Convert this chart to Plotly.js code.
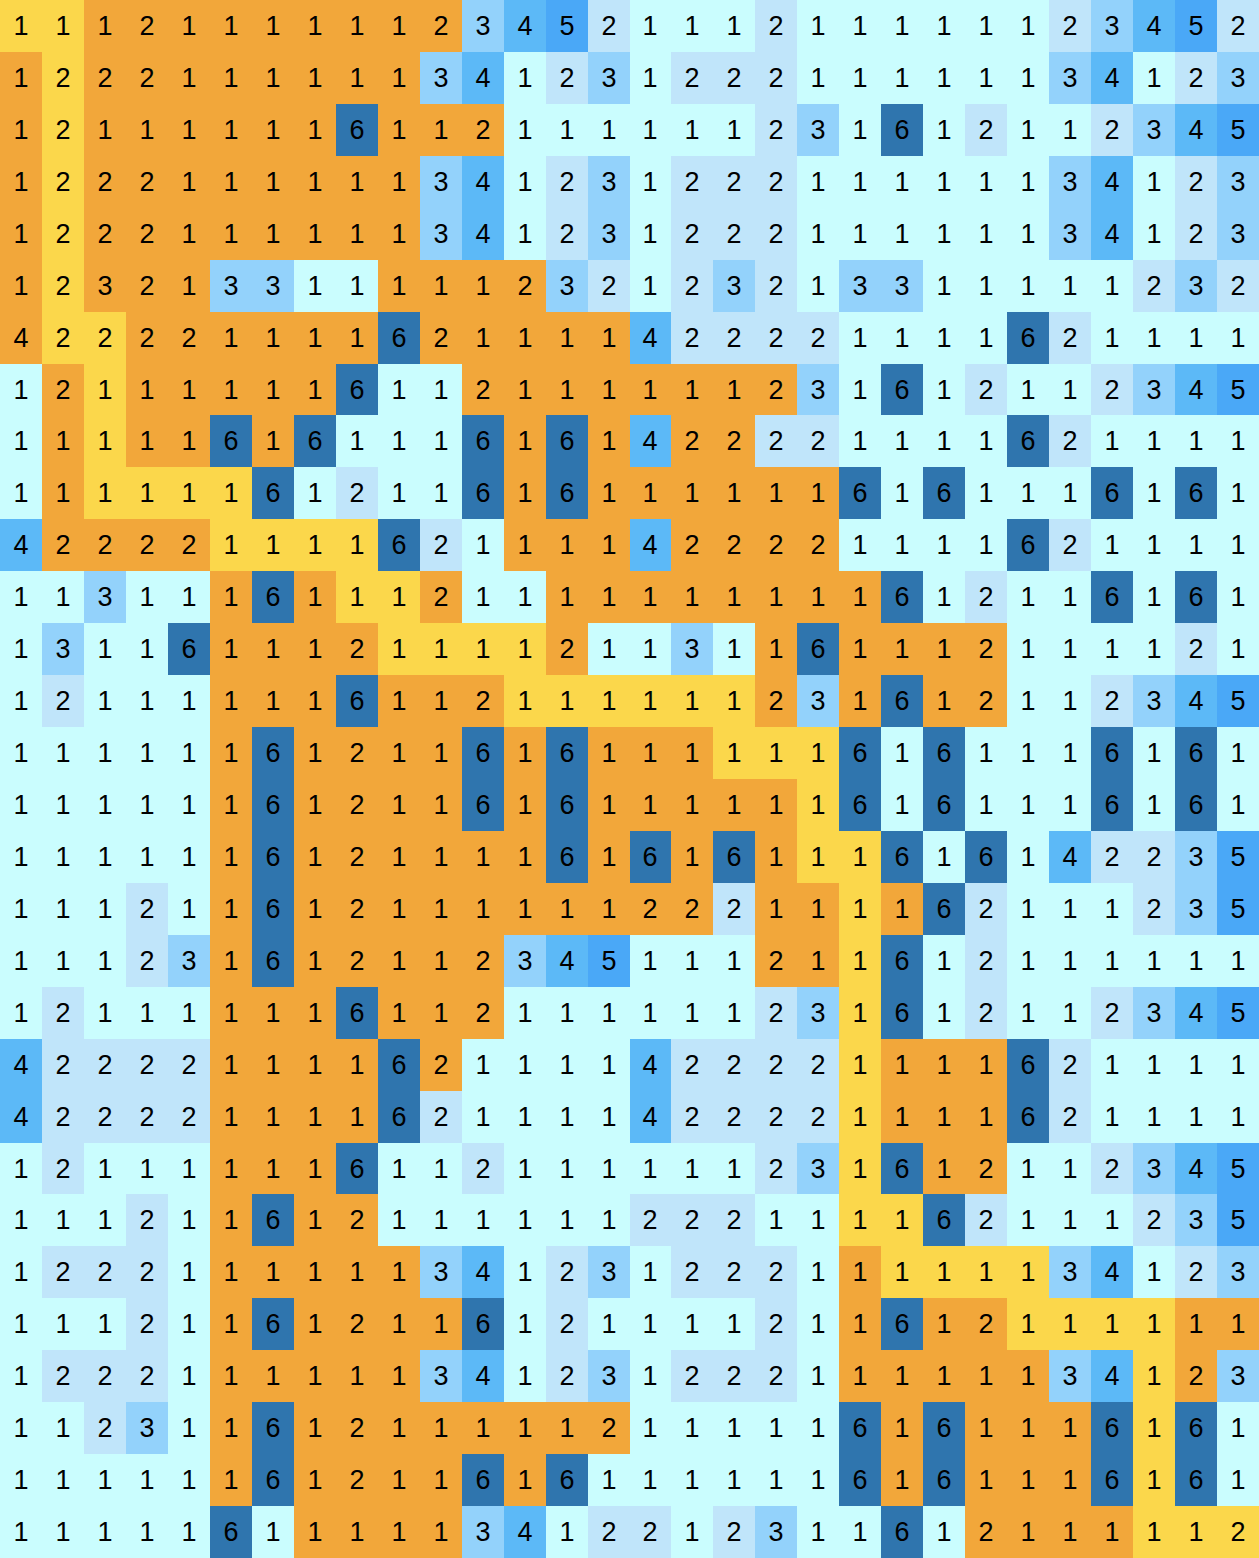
<!DOCTYPE html>
<html>
<head>
<meta charset="utf-8">
<script src="https://cdn.plot.ly/plotly-3.0.1.min.js"></script>
<style>html,body{margin:0;padding:0;background:#fff;overflow:hidden}#chart{width:1259px;height:1558px}</style>
</head>
<body>
<div id="chart"></div>
<script>
// Cell numbers, one string per row (30 columns each)
const cellValues = [
  "111211111123452111211111123452",
  "122211111134123122211111134123",
  "121111116112111111231612112345",
  "122211111134123122211111134123",
  "122211111134123122211111134123",
  "123213311111232123213311111232",
  "422221111621111422221111621111",
  "121111116112111111231612112345",
  "111116161116161422221111621111",
  "111111612116161111116161116161",
  "422221111621111422221111621111",
  "113111611121111111111612116161",
  "131161112111121131161112111121",
  "121111116112111111231612112345",
  "111111612116161111116161116161",
  "111111612116161111116161116161",
  "111111612111161616111616142235",
  "111211612111111222111162111235",
  "111231612112345111211612111111",
  "121111116112111111231612112345",
  "422221111621111422221111621111",
  "422221111621111422221111621111",
  "121111116112111111231612112345",
  "111211612111111222111162111235",
  "122211111134123122211111134123",
  "111211612116121111211612111111",
  "122211111134123122211111134123",
  "112311612111112111116161116161",
  "111111612116161111116161116161",
  "111116111113412212311612111112"
];
// Path membership, left half (cols 0-14): O = orange region, Y = yellow route, . = coloured by number
const cellPath = [
  "YYOOOOOOOOO....",
  "OYOOOOOOOO.....",
  "OYOOOOOO.OOO...",
  "OYOOOOOOOO.....",
  "OYOOOOOOOO.....",
  "OYOOO....OOOO..",
  "OYYOOOOOO.OOOOO",
  ".OYOOOOO...OOOO",
  ".OYOO.O.....O.O",
  ".OYYYY......O.O",
  ".OOOOYYYY...OOO",
  ".....O.OYYO..OO",
  ".....OOOOYYYYO.",
  ".....OOO.OOOYYY",
  ".....O.OOOO.O.O",
  ".....O.OOOO.O.O",
  ".....O.OOOOOO.O",
  ".....O.OOOOOOOO",
  ".....O.OOOOO...",
  ".....OOO.OOO...",
  ".....OOOO.O....",
  ".....OOOO......",
  ".....OOO.......",
  ".....O.OO......",
  ".....OOOOO.....",
  ".....O.OOOO....",
  ".....OOOOO.....",
  ".....O.OOOOOOOO",
  ".....O.OOOO.O..",
  ".......OOOO...."
];
// Path membership, right half (cols 15-29)
const cellPathRight = [
  "...............",
  "...............",
  "...............",
  "...............",
  "...............",
  "...............",
  "...............",
  "OOOO...........",
  ".OO............",
  "OOOOO..........",
  ".OOOO..........",
  "OOOOOO.........",
  "...O.OOOO......",
  "YYYO.O.OO......",
  "OOYYY..........",
  "OOOOY..........",
  ".O.OYY.........",
  "OO.OOYO........",
  "...OOY.........",
  ".....Y.........",
  ".....YOOO......",
  ".....YOOO......",
  ".....Y.OO......",
  ".....YY........",
  ".....OYYYY.....",
  ".....O.OOYYYYOO",
  ".....OOOOO..YO.",
  "......O.OOO.Y..",
  "......O.OOO.Y..",
  "........OOOOYYY"
];
// colours for numbers 1..6, then orange region, then yellow route
const numberColors = ["#cafdfe", "#c0e5fa", "#93d2fb", "#5cb9f7", "#4aa8f7", "#2f75ae"];
const orangeColor = "#f2a73a";
const yellowColor = "#fbd74b";

const nRows = cellValues.length, nCols = 30;
const z = [], text = [];
for (let r = 0; r < nRows; r++) {
  const path = cellPath[r] + cellPathRight[r];
  const zr = [], tr = [];
  for (let c = 0; c < nCols; c++) {
    const v = parseInt(cellValues[r][c], 10);
    const p = path[c];
    zr.push(p === 'O' ? 7 : p === 'Y' ? 8 : v);
    tr.push(String(v));
  }
  z.push(zr); text.push(tr);
}
const allColors = numberColors.concat([orangeColor, yellowColor]);
const colorscale = [];
allColors.forEach((col, i) => {
  colorscale.push([i / allColors.length, col]);
  colorscale.push([(i + 1) / allColors.length, col]);
});
const xs = Array.from({length: nCols}, (_, i) => i);
const ys = Array.from({length: nRows}, (_, i) => i);

Plotly.newPlot('chart', [{
  type: 'heatmap',
  x: xs, y: ys, z: z, text: text,
  texttemplate: '%{text}',
  textfont: {family: 'Liberation Sans, Arial, sans-serif', size: 27, color: '#000'},
  colorscale: colorscale, zmin: 0.5, zmax: 8.5,
  showscale: false, hoverinfo: 'skip', xgap: 0, ygap: 0
}], {
  width: 1259, height: 1558,
  margin: {l: 0, r: 0, t: 0, b: 0},
  paper_bgcolor: '#fff', plot_bgcolor: '#fff',
  xaxis: {visible: false, range: [-0.5, nCols - 0.5], fixedrange: true},
  yaxis: {visible: false, range: [nRows - 0.5, -0.5], fixedrange: true},
  showlegend: false
}, {staticPlot: true, displayModeBar: false});
</script>
</body>
</html>
